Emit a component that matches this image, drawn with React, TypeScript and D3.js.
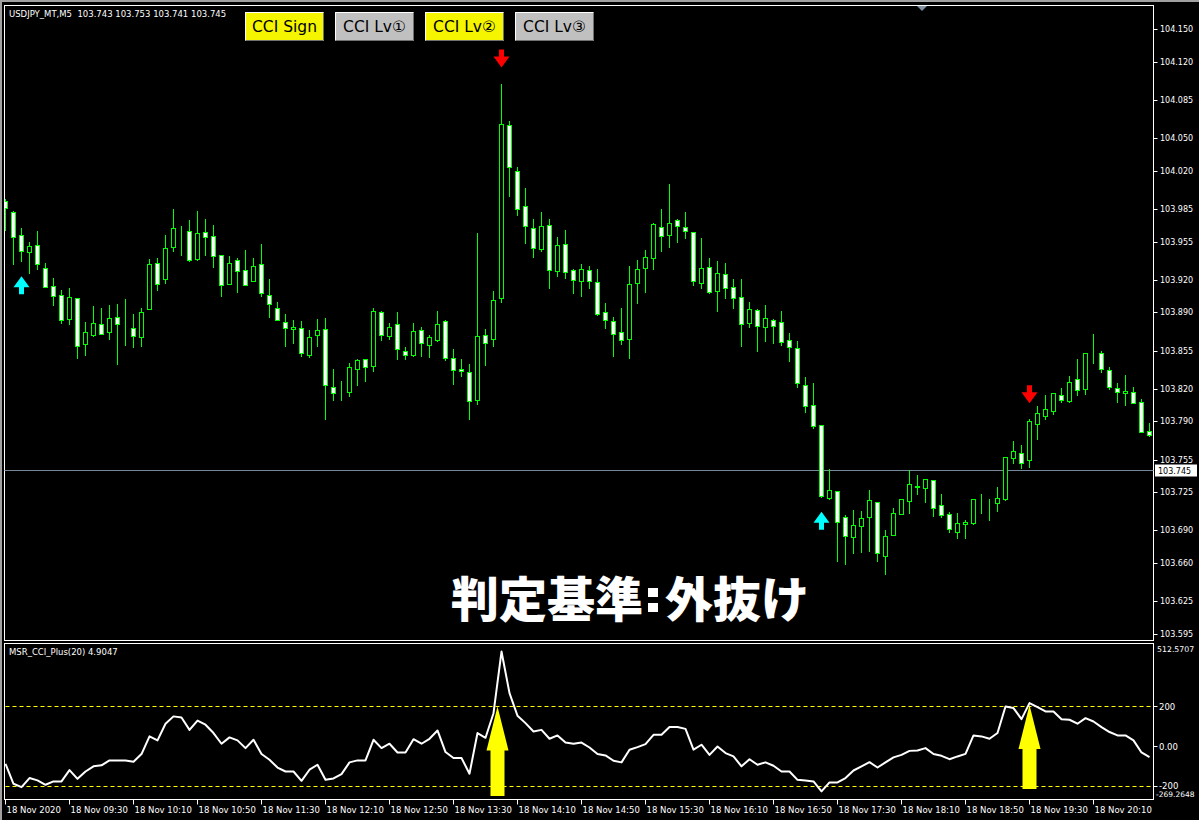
import React, { useEffect } from 'react';
import * as d3 from 'd3';

// USDJPY M5, 18 Nov 2020 08:50 onward (one bar every 5 minutes)
const opens = [
  103.992, 103.982, 103.961, 103.945, 103.952, 103.931, 103.914, 103.906, 103.884, 103.903,
  103.861, 103.869, 103.879, 103.872, 103.886, 103.878, 103.876, 103.867, 103.893, 103.935,
  103.921, 103.950, 103.966, 103.965, 103.939, 103.964, 103.960, 103.943, 103.916, 103.938,
  103.929, 103.919, 103.934, 103.906, 103.894, 103.881, 103.875, 103.876, 103.851, 103.869,
  103.875, 103.822, 103.817, 103.817, 103.838, 103.847, 103.841, 103.890, 103.868, 103.879,
  103.855, 103.851, 103.874, 103.860, 103.865, 103.882, 103.848, 103.838, 103.835, 103.810,
  103.869, 103.866, 103.903, 104.062, 104.020, 103.988, 103.967, 103.948, 103.970, 103.928,
  103.953, 103.929, 103.919, 103.929, 103.918, 103.890, 103.882, 103.872, 103.866, 103.917,
  103.931, 103.940, 103.968, 103.961, 103.975, 103.968, 103.964, 103.917, 103.932, 103.910,
  103.925, 103.913, 103.904, 103.880, 103.892, 103.877, 103.883, 103.881, 103.865, 103.857,
  103.823, 103.805, 103.787, 103.720, 103.726, 103.702, 103.684, 103.694, 103.702, 103.716,
  103.667, 103.686, 103.705, 103.717, 103.731, 103.729, 103.736, 103.713, 103.705, 103.689,
  103.696, 103.697, 103.718, 103.715, 103.715, 103.719, 103.756, 103.761, 103.755, 103.788,
  103.795, 103.800, 103.814, 103.809, 103.829, 103.820, 103.852, 103.853, 103.837, 103.821,
  103.816, 103.817, 103.808, 103.781,
];
const highs = [
  103.994, 103.983, 103.967, 103.955, 103.965, 103.935, 103.922, 103.911, 103.912, 103.903,
  103.881, 103.896, 103.894, 103.897, 103.898, 103.902, 103.889, 103.894, 103.939, 103.940,
  103.961, 103.985, 103.969, 103.975, 103.983, 103.976, 103.970, 103.943, 103.942, 103.940,
  103.947, 103.940, 103.953, 103.921, 103.900, 103.889, 103.883, 103.882, 103.874, 103.884,
  103.885, 103.838, 103.827, 103.844, 103.847, 103.847, 103.894, 103.891, 103.880, 103.890,
  103.858, 103.880, 103.877, 103.869, 103.891, 103.883, 103.856, 103.847, 103.843, 103.963,
  103.875, 103.910, 104.100, 104.066, 104.023, 104.004, 103.976, 103.982, 103.976, 103.959,
  103.966, 103.930, 103.934, 103.933, 103.930, 103.899, 103.886, 103.894, 103.933, 103.938,
  103.947, 103.972, 103.985, 104.008, 103.976, 103.982, 103.964, 103.958, 103.940, 103.937,
  103.935, 103.921, 103.921, 103.900, 103.893, 103.897, 103.884, 103.891, 103.871, 103.864,
  103.831, 103.825, 103.787, 103.746, 103.726, 103.704, 103.709, 103.708, 103.727, 103.716,
  103.690, 103.711, 103.719, 103.745, 103.741, 103.737, 103.736, 103.723, 103.707, 103.706,
  103.700, 103.719, 103.723, 103.719, 103.730, 103.757, 103.772, 103.768, 103.792, 103.804,
  103.814, 103.816, 103.821, 103.832, 103.847, 103.853, 103.870, 103.855, 103.840, 103.825,
  103.833, 103.822, 103.811, 103.789,
];
const lows = [
  103.966, 103.934, 103.937, 103.926, 103.930, 103.913, 103.897, 103.880, 103.879, 103.848,
  103.851, 103.868, 103.870, 103.866, 103.843, 103.860, 103.858, 103.859, 103.893, 103.911,
  103.917, 103.946, 103.943, 103.937, 103.938, 103.943, 103.932, 103.905, 103.916, 103.909,
  103.915, 103.919, 103.905, 103.886, 103.883, 103.859, 103.862, 103.850, 103.849, 103.859,
  103.792, 103.810, 103.810, 103.813, 103.823, 103.827, 103.836, 103.865, 103.866, 103.847,
  103.847, 103.850, 103.850, 103.849, 103.864, 103.846, 103.824, 103.832, 103.792, 103.806,
  103.842, 103.859, 103.900, 103.997, 103.979, 103.954, 103.941, 103.946, 103.912, 103.923,
  103.922, 103.908, 103.905, 103.912, 103.888, 103.876, 103.850, 103.861, 103.848, 103.899,
  103.909, 103.930, 103.946, 103.950, 103.955, 103.958, 103.915, 103.912, 103.908, 103.891,
  103.903, 103.894, 103.859, 103.877, 103.855, 103.864, 103.862, 103.860, 103.845, 103.822,
  103.799, 103.784, 103.721, 103.719, 103.662, 103.659, 103.669, 103.670, 103.671, 103.662,
  103.650, 103.686, 103.705, 103.706, 103.723, 103.716, 103.703, 103.702, 103.689, 103.683,
  103.683, 103.696, 103.706, 103.700, 103.708, 103.718, 103.752, 103.747, 103.748, 103.774,
  103.792, 103.797, 103.808, 103.808, 103.814, 103.815, 103.844, 103.835, 103.820, 103.808,
  103.805, 103.807, 103.780, 103.777,
];
const closes = [
  103.986, 103.959, 103.946, 103.951, 103.934, 103.913, 103.905, 103.883, 103.904, 103.859,
  103.872, 103.880, 103.870, 103.885, 103.879, 103.878, 103.868, 103.890, 103.934, 103.916,
  103.949, 103.967, 103.966, 103.938, 103.963, 103.959, 103.942, 103.915, 103.935, 103.928,
  103.915, 103.933, 103.908, 103.898, 103.883, 103.876, 103.877, 103.853, 103.867, 103.874,
  103.823, 103.816, 103.817, 103.840, 103.846, 103.840, 103.891, 103.869, 103.877, 103.856,
  103.851, 103.873, 103.862, 103.867, 103.879, 103.848, 103.837, 103.836, 103.809, 103.868,
  103.862, 103.901, 104.063, 104.023, 103.985, 103.969, 103.949, 103.969, 103.929, 103.952,
  103.927, 103.920, 103.930, 103.919, 103.889, 103.883, 103.870, 103.865, 103.916, 103.930,
  103.941, 103.971, 103.960, 103.972, 103.969, 103.965, 103.919, 103.931, 103.909, 103.926,
  103.912, 103.903, 103.879, 103.893, 103.878, 103.885, 103.878, 103.863, 103.858, 103.825,
  103.804, 103.786, 103.722, 103.727, 103.698, 103.685, 103.695, 103.701, 103.718, 103.669,
  103.685, 103.706, 103.719, 103.733, 103.730, 103.737, 103.711, 103.704, 103.691, 103.697,
  103.698, 103.719, 103.718, 103.715, 103.720, 103.757, 103.763, 103.752, 103.790, 103.798,
  103.801, 103.816, 103.810, 103.826, 103.819, 103.853, 103.852, 103.838, 103.822, 103.817,
  103.818, 103.807, 103.780, 103.778,
];
const cci = [
  -89, -190, -207, -161, -173, -195, -178, -178, -121, -165,
  -128, -102, -97, -72, -72, -72, -79, -40, 49, 29,
  113, 150, 144, 82, 129, 108, 66, 12, 44, 29,
  -10, 32, -40, -69, -108, -128, -128, -175, -119, -94,
  -170, -163, -141, -82, -72, -72, 32, -10, 12, -32,
  -32, 35, 12, 37, 79, -30, -60, -60, -139, 66,
  42, 166, 477, 267, 153, 116, 74, 82, 37, 54,
  18, 12, 18, -7, -40, -47, -74, -82, -18, -5,
  10, 57, 57, 96, 96, 87, -18, 7, -44, -2,
  -35, -52, -102, -66, -94, -82, -99, -128, -128, -170,
  -173, -178, -228, -183, -183, -161, -123, -102, -81, -108,
  -82, -57, -44, -24, -22, -10, -40, -49, -66, -52,
  -39, 54, 49, 37, 66, 200, 192, 136, 217, 197,
  175, 175, 136, 133, 113, 141, 124, 96, 71, 54,
  54, 29, -32, -55,
];

const priceTicks = [
  104.150, 104.120, 104.085, 104.050, 104.020, 103.985, 103.955, 103.920, 103.890,
  103.855, 103.820, 103.790, 103.755, 103.725, 103.690, 103.660, 103.625, 103.595,
];
const timeLabels = [
  '18 Nov 2020', '18 Nov 09:30', '18 Nov 10:10', '18 Nov 10:50', '18 Nov 11:30', '18 Nov 12:10',
  '18 Nov 12:50', '18 Nov 13:30', '18 Nov 14:10', '18 Nov 14:50', '18 Nov 15:30', '18 Nov 16:10',
  '18 Nov 16:50', '18 Nov 17:30', '18 Nov 18:10', '18 Nov 18:50', '18 Nov 19:30', '18 Nov 20:10',
];
const cciRange = [-269.2648, 512.5707];
const cciLevels = [200, -200];
const cciTicks = [200, 0, -200];
const upSignals = [2, 102];
const downSignals = [62, 128];
const buttons = [
  { label: 'CCI Sign', on: true },
  { label: 'CCI Lv①', on: false },
  { label: 'CCI Lv②', on: true },
  { label: 'CCI Lv③', on: false },
];
// hand-drawn yellow arrows: bar position, tip and foot in CCI units
const noteArrows = [
  { at: 61.5, tip: 200, foot: -251 },
  { at: 128, tip: 208, foot: -216 },
];
const bidPrice = 103.745;
const header = 'USDJPY_MT,M5  103.743 103.753 103.741 103.745';
const indicatorName = 'MSR_CCI_Plus(20) 4.9047';
const title = '判定基準:外抜け';

const W = 1199;
const H = 820;
const left = 4.5;
const right = 1153.5;
const mainTop = 5.5;
const mainBottom = 640.5;
const subTop = 643.5;
const subBottom = 799.5;
const font = 'DejaVu Sans, Noto Sans CJK JP, sans-serif';
const jp = 'Noto Sans CJK JP, sans-serif';

const App = () => {
  useEffect(() => {
    document.body.style.margin = '0';
    document.body.style.background = '#000';
  }, []);

  const x = d3.scaleLinear().domain([0, closes.length - 1]).range([5.5, 5.5 + 8 * (closes.length - 1)]);
  const y = d3.scaleLinear().domain([103.595, 104.150]).range([634, 29]);
  const cy = d3.scaleLinear().domain(cciRange).range([subBottom, subTop + 1]);
  const px = (v: number) => Math.round(v) + 0.5;

  const cciLine = d3.line<number>()
    .x((_, i) => x(i))
    .y(d => cy(d));

  const green = '#00ff00';
  const [titleLeft, titleRight] = title.split(':');

  return (
    <svg width={W} height={H} style={{ display: 'block', background: '#000' }}>
      <defs>
        <clipPath id="mainClip">
          <rect x={left + 0.5} y={mainTop + 0.5} width={right - left - 1} height={mainBottom - mainTop - 1} />
        </clipPath>
        <clipPath id="subClip">
          <rect x={left + 0.5} y={subTop + 0.5} width={right - left - 1} height={subBottom - subTop - 1} />
        </clipPath>
      </defs>
      <rect width={W} height={H} fill="#000" />
      {/* window frame */}
      <rect x={0} y={0} width={W} height={2} fill="#a0a0a0" />
      <rect x={0} y={0} width={2} height={H} fill="#a0a0a0" />

      {/* pane borders */}
      <rect x={left} y={mainTop} width={right - left} height={mainBottom - mainTop} fill="none" stroke="#fff" />
      <rect x={left} y={subTop} width={right - left} height={subBottom - subTop} fill="none" stroke="#fff" />
      <path d="M917,6 L927,6 L922,11 Z" fill="#8090a0" />

      {/* bid line */}
      <line x1={left} x2={right} y1={px(y(bidPrice))} y2={px(y(bidPrice))} stroke="#778899" />

      {/* candles */}
      <g clipPath="url(#mainClip)">
        {closes.map((c, i) => {
          const o = opens[i];
          const cx = x(i);
          const top = px(y(Math.max(o, c)));
          const bot = px(y(Math.min(o, c)));
          return (
            <g key={i}>
              <line x1={cx} x2={cx} y1={Math.round(y(highs[i]))} y2={Math.round(y(lows[i])) + 1} stroke={green} />
              <rect x={cx - 2} y={top} width={4} height={bot - top}
                fill={c < o ? '#fff' : '#000'} stroke={green} />
            </g>
          );
        })}
        {upSignals.map(i => {
          const cx = x(i);
          const t = y(lows[i]) + 15;
          return <path key={'u' + i} fill="#00ffff"
            d={`M${cx},${t} L${cx + 8},${t + 11} L${cx + 2.5},${t + 11} L${cx + 2.5},${t + 18} L${cx - 2.5},${t + 18} L${cx - 2.5},${t + 11} L${cx - 8},${t + 11} Z`} />;
        })}
        {downSignals.map(i => {
          const cx = x(i);
          const t = y(highs[i]) - 16;
          return <path key={'d' + i} fill="#ff0000"
            d={`M${cx},${t} L${cx + 8},${t - 11} L${cx + 2.5},${t - 11} L${cx + 2.5},${t - 18} L${cx - 2.5},${t - 18} L${cx - 2.5},${t - 11} L${cx - 8},${t - 11} Z`} />;
        })}
      </g>

      {/* header */}
      <text x={9} y={17} fill="#fff" fontSize={8.5} fontFamily={font} style={{ whiteSpace: 'pre' }}>{header}</text>

      {/* buttons */}
      {buttons.map((b, k) => {
        const bx = 245 + 90 * k;
        return (
          <g key={b.label}>
            <rect x={bx} y={12} width={79} height={29} fill={b.on ? '#f5f500' : '#c0c0c0'} />
            <path d={`M${bx + 0.5},${40.5} V${12.5} H${bx + 78.5}`} fill="none" stroke="#fff" />
            <path d={`M${bx + 0.5},${40.5} H${bx + 78.5} V${12.5}`} fill="none" stroke="#707070" />
            <text x={bx + 39.5} y={32} textAnchor="middle" fontSize={15.5} fontFamily={font} fill="#000">{b.label}</text>
          </g>
        );
      })}

      {/* big caption */}
      <g fill="#fff" fontSize={48} fontWeight={900} fontFamily={jp}>
        <text x={451} y={617}>{titleLeft}</text>
        <rect x={648} y={588} width={10} height={9} />
        <rect x={648} y={603} width={10} height={9} />
        <text x={665} y={617}>{titleRight}</text>
      </g>

      {/* price axis */}
      {priceTicks.map(p => (
        <g key={p}>
          <line x1={right} x2={right + 4} y1={px(y(p))} y2={px(y(p))} stroke="#fff" />
          <text x={1160} y={y(p) + 3} fontSize={8} fontFamily={font} fill="#fff">{p.toFixed(3)}</text>
        </g>
      ))}
      <rect x={1155} y={464.5} width={42} height={12} fill="#fff" />
      <text x={1158} y={y(bidPrice) + 3.5} fontSize={8} fontFamily={font} fill="#000">{bidPrice.toFixed(3)}</text>

      {/* CCI pane */}
      <text x={9} y={655} fill="#fff" fontSize={8.5} fontFamily={font}>{indicatorName}</text>
      {cciLevels.map(v => (
        <line key={v} x1={left + 1} x2={right - 1} y1={px(cy(v))} y2={px(cy(v))}
          stroke="#ffff00" strokeDasharray="4,3" />
      ))}
      <g clipPath="url(#subClip)">
        <path d={cciLine(cci) || ''} fill="none" stroke="#fff" strokeWidth={2} strokeLinejoin="round" />
      </g>
      {noteArrows.map(a => {
        const cx = x(a.at);
        const t = cy(a.tip);
        const b = cy(a.foot);
        return <path key={a.at} fill="#ffff00"
          d={`M${cx},${t} L${cx + 11},${t + 44} L${cx + 7},${t + 44} L${cx + 7},${b} L${cx - 7},${b} L${cx - 7},${t + 44} L${cx - 11},${t + 44} Z`} />;
      })}
      {cciTicks.map(v => (
        <g key={v}>
          <line x1={right} x2={right + 4} y1={px(cy(v))} y2={px(cy(v))} stroke="#fff" />
          <text x={1159} y={cy(v) + 3.5} fontSize={8.5} fontFamily={font} fill="#fff">{v === 0 ? '0.00' : v}</text>
        </g>
      ))}
      <text x={1157} y={652} fontSize={7.8} fontFamily={font} fill="#fff">{cciRange[1].toFixed(4)}</text>
      <text x={1156} y={797} fontSize={7.5} fontFamily={font} fill="#fff">{cciRange[0].toFixed(4)}</text>

      {/* time axis */}
      {timeLabels.map((t, k) => {
        const tx = x(k * 8);
        return (
          <g key={t}>
            <line x1={Math.round(tx) - 0.5} x2={Math.round(tx) - 0.5} y1={subBottom} y2={subBottom + 5} stroke="#fff" />
            <text x={tx + 1} y={813} fontSize={8.5} fontFamily={font} fill="#fff">{t}</text>
          </g>
        );
      })}
    </svg>
  );
};

export default App;
